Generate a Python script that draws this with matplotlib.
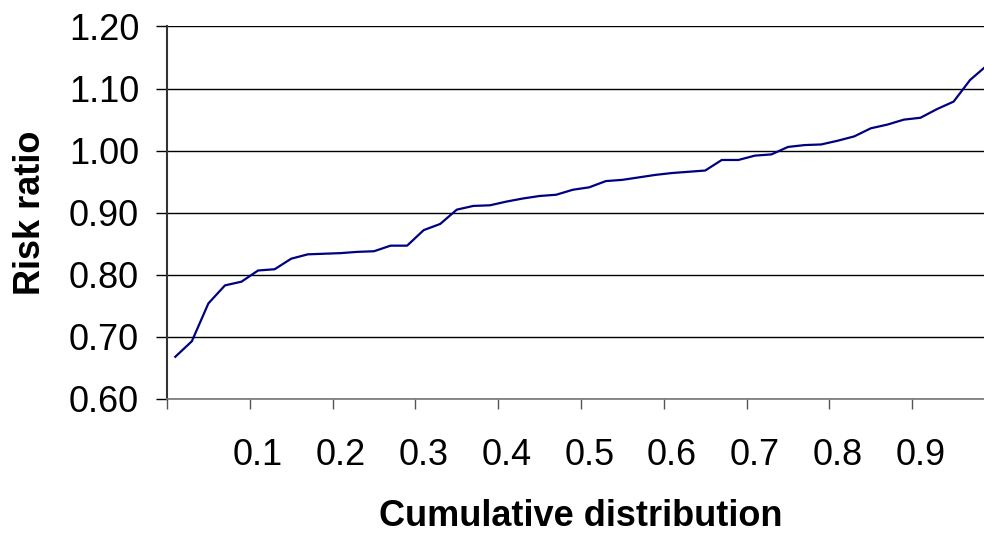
import matplotlib
matplotlib.use('Agg')
import matplotlib.pyplot as plt
import numpy as np

plt.rcParams['font.family'] = ['Liberation Sans', 'DejaVu Sans']

# Cumulative distribution (category centres) and risk ratio values
cum_dist = [0.01, 0.03, 0.05, 0.07, 0.09, 0.11, 0.13, 0.15, 0.17, 0.19,
            0.21, 0.23, 0.25, 0.27, 0.29, 0.31, 0.33, 0.35, 0.37, 0.39,
            0.41, 0.43, 0.45, 0.47, 0.49, 0.51, 0.53, 0.55, 0.57, 0.59,
            0.61, 0.63, 0.65, 0.67, 0.69, 0.71, 0.73, 0.75, 0.77, 0.79,
            0.81, 0.83, 0.85, 0.87, 0.89, 0.91, 0.93, 0.95, 0.97, 0.99]
risk_ratio = [0.668, 0.693, 0.754, 0.783, 0.789, 0.807, 0.809, 0.826, 0.833, 0.834,
              0.835, 0.837, 0.838, 0.847, 0.847, 0.872, 0.882, 0.905, 0.911, 0.912,
              0.918, 0.923, 0.927, 0.929, 0.937, 0.941, 0.951, 0.953, 0.957, 0.961,
              0.964, 0.966, 0.968, 0.985, 0.985, 0.992, 0.994, 1.006, 1.009, 1.010,
              1.016, 1.023, 1.036, 1.042, 1.050, 1.053, 1.067, 1.079, 1.114, 1.137]

# every fifth category gets a label
label_pos = cum_dist[5::5]
label_text = ['0.1', '0.2', '0.3', '0.4', '0.5', '0.6', '0.7', '0.8', '0.9']
y_ticks = [0.60, 0.70, 0.80, 0.90, 1.00, 1.10, 1.20]

fig = plt.figure(figsize=(9.84, 5.35), dpi=100)
ax = fig.add_axes([167 / 984, 136 / 535, 828 / 984, 372.5 / 535])

ax.plot(cum_dist, risk_ratio, color='#000080', linewidth=1.6, clip_on=False)

ax.set_xlim(0, 1.0)
ax.set_ylim(0.60, 1.20)

# horizontal gridlines
ax.set_yticks(y_ticks)
ax.set_yticklabels([f'{v:.2f}' for v in y_ticks])
ax.yaxis.grid(True, color='black', linewidth=1.0)
ax.set_axisbelow(True)

# tick marks between categories, labels on category centres
ax.set_xticks(np.linspace(0, 1.0, 11))
ax.set_xticklabels([])
ax.set_xticks(label_pos, minor=True)
ax.set_xticklabels(label_text, minor=True)
ax.tick_params(axis='x', which='major', length=7, width=1, color='#555555', direction='out')
ax.tick_params(axis='x', which='minor', length=0, pad=28, labelsize=26)
ax.tick_params(axis='y', length=8, width=1, color='black', pad=12, labelsize=26)

for s in ['top', 'right']:
    ax.spines[s].set_visible(False)
ax.spines['left'].set_linewidth(1.5)
ax.spines['left'].set_color('#333333')
ax.spines['bottom'].set_linewidth(1.2)
ax.spines['bottom'].set_color('#777777')

ax.set_xlabel('Cumulative distribution', fontsize=26, fontweight='bold', labelpad=19)
ax.set_ylabel('Risk ratio', fontsize=26, fontweight='bold', labelpad=15)

plt.savefig('out.png', dpi=100, facecolor='white')
